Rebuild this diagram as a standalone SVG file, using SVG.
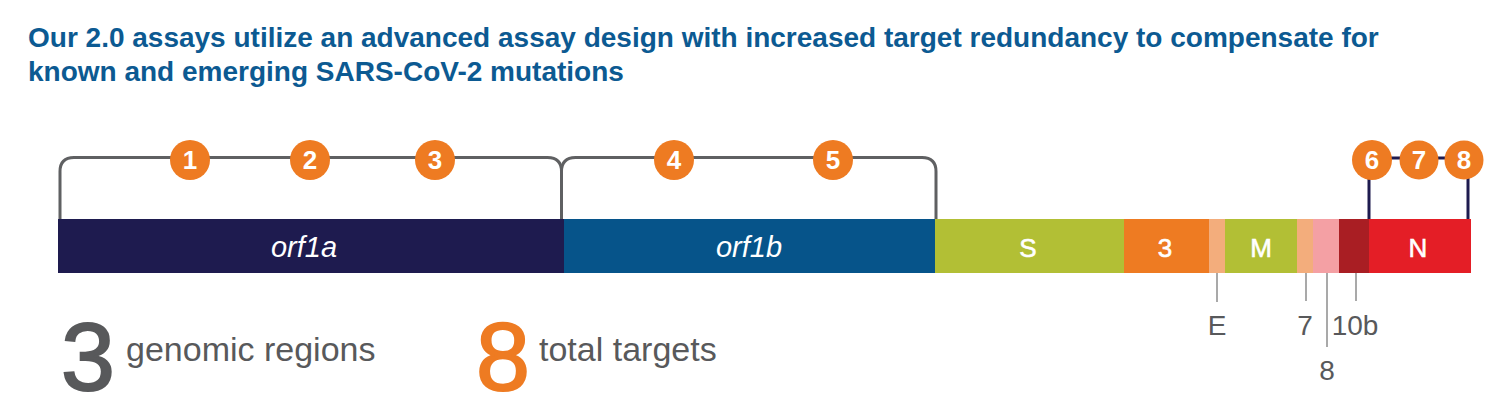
<svg xmlns="http://www.w3.org/2000/svg" width="1500" height="420" viewBox="0 0 1500 420">
<style>
.title{font-family:"Liberation Sans",Arial,sans-serif;font-weight:bold;font-size:28px;fill:#0c5a92}
.seg{font-family:"Liberation Sans",Arial,sans-serif;font-size:26px;fill:#ffffff;stroke:#ffffff;stroke-width:0.6;text-anchor:middle}
.orf{font-family:"Liberation Sans",Arial,sans-serif;font-style:italic;font-size:29px;fill:#ffffff;text-anchor:middle}
.num{font-family:"Liberation Sans",Arial,sans-serif;font-weight:bold;font-size:26px;fill:#ffffff;text-anchor:middle}
.lab{font-family:"Liberation Sans",Arial,sans-serif;font-size:28px;fill:#58595b;text-anchor:middle}
.big{font-family:"Liberation Sans",Arial,sans-serif;font-size:97px;text-anchor:middle;stroke-width:2}
.cap{font-family:"Liberation Sans",Arial,sans-serif;font-size:34px;fill:#58595b}
.circ{fill:#ee7b22}
.brk{fill:none;stroke:#5f6062;stroke-width:3}
.nav{fill:none;stroke:#1e1b4f;stroke-width:3}
.tick{stroke:#8c8c8c;stroke-width:1.5}
</style>
<rect width="1500" height="420" fill="#ffffff"/>
<g id="title">
<text class="title" x="28" y="47">Our 2.0 assays utilize an advanced assay design with increased target redundancy to compensate for</text>
<text class="title" x="28" y="81">known and emerging SARS-CoV-2 mutations</text>
</g>
<g id="connectors">
<path class="brk" d="M60 219 V171.5 Q60 157.5 74 157.5 H547.5 Q561.5 157.5 561.5 171.5 V219"/>
<path class="brk" d="M561.5 219 V171.5 Q561.5 157.5 575.5 157.5 H922 Q936 157.5 936 171.5 V219"/>
<path class="nav" d="M1369 219 V158 H1468 V219"/>
<line class="tick" x1="1217" y1="273" x2="1217" y2="302"/>
<line class="tick" x1="1306" y1="273" x2="1306" y2="301"/>
<line class="tick" x1="1327" y1="273" x2="1327" y2="347"/>
<line class="tick" x1="1356" y1="273" x2="1356" y2="301"/>
</g>
<g id="genome">
<g id="orf1a"><rect x="58" y="219" width="506" height="54" fill="#1e1b4f"/><text class="orf" x="304" y="257">orf1a</text></g>
<g id="orf1b"><rect x="564" y="219" width="371" height="54" fill="#06548a"/><text class="orf" x="749" y="257">orf1b</text></g>
<g id="S"><rect x="935" y="219" width="189" height="54" fill="#b2bf35"/><text class="seg" x="1028" y="257">S</text></g>
<g id="g3"><rect x="1124" y="219" width="85" height="54" fill="#ee7b22"/><text class="seg" x="1165" y="257">3</text></g>
<g id="E"><rect x="1209" y="219" width="16" height="54" fill="#f3ad7c"/><text class="lab" x="1217" y="335">E</text></g>
<g id="M"><rect x="1225" y="219" width="72" height="54" fill="#b2bf35"/><text class="seg" x="1261" y="257">M</text></g>
<g id="g7"><rect x="1297" y="219" width="16" height="54" fill="#f3ad7c"/><text class="lab" x="1305" y="335">7</text></g>
<g id="g8"><rect x="1313" y="219" width="26" height="54" fill="#f4a0a4"/><text class="lab" x="1327" y="380">8</text></g>
<g id="g10b"><rect x="1339" y="219" width="30" height="54" fill="#a91e23"/><text class="lab" x="1355" y="335">10b</text></g>
<g id="N"><rect x="1369" y="219" width="102" height="54" fill="#e41e26"/><text class="seg" x="1418" y="257">N</text></g>
</g>
<g id="targets">
<g id="t1"><circle class="circ" cx="190" cy="160" r="20"/><text class="num" x="190" y="169">1</text></g>
<g id="t2"><circle class="circ" cx="310" cy="160" r="20"/><text class="num" x="310" y="169">2</text></g>
<g id="t3"><circle class="circ" cx="435" cy="160" r="20"/><text class="num" x="435" y="169">3</text></g>
<g id="t4"><circle class="circ" cx="674" cy="160" r="20"/><text class="num" x="674" y="169">4</text></g>
<g id="t5"><circle class="circ" cx="833" cy="160" r="20"/><text class="num" x="833" y="169">5</text></g>
<g id="t6"><circle class="circ" cx="1372" cy="160" r="20"/><text class="num" x="1372" y="169">6</text></g>
<g id="t7"><circle class="circ" cx="1419" cy="160" r="19.5"/><text class="num" x="1419" y="169">7</text></g>
<g id="t8"><circle class="circ" cx="1464" cy="160" r="19.5"/><text class="num" x="1464" y="169">8</text></g>
</g>
<g id="summary">
<text class="big" x="88" y="390" fill="#58595b" stroke="#58595b">3</text>
<text class="cap" x="126" y="361">genomic regions</text>
<text class="big" x="503" y="390" fill="#ee7b22" stroke="#ee7b22">8</text>
<text class="cap" x="539" y="361">total targets</text>
</g>
</svg>
